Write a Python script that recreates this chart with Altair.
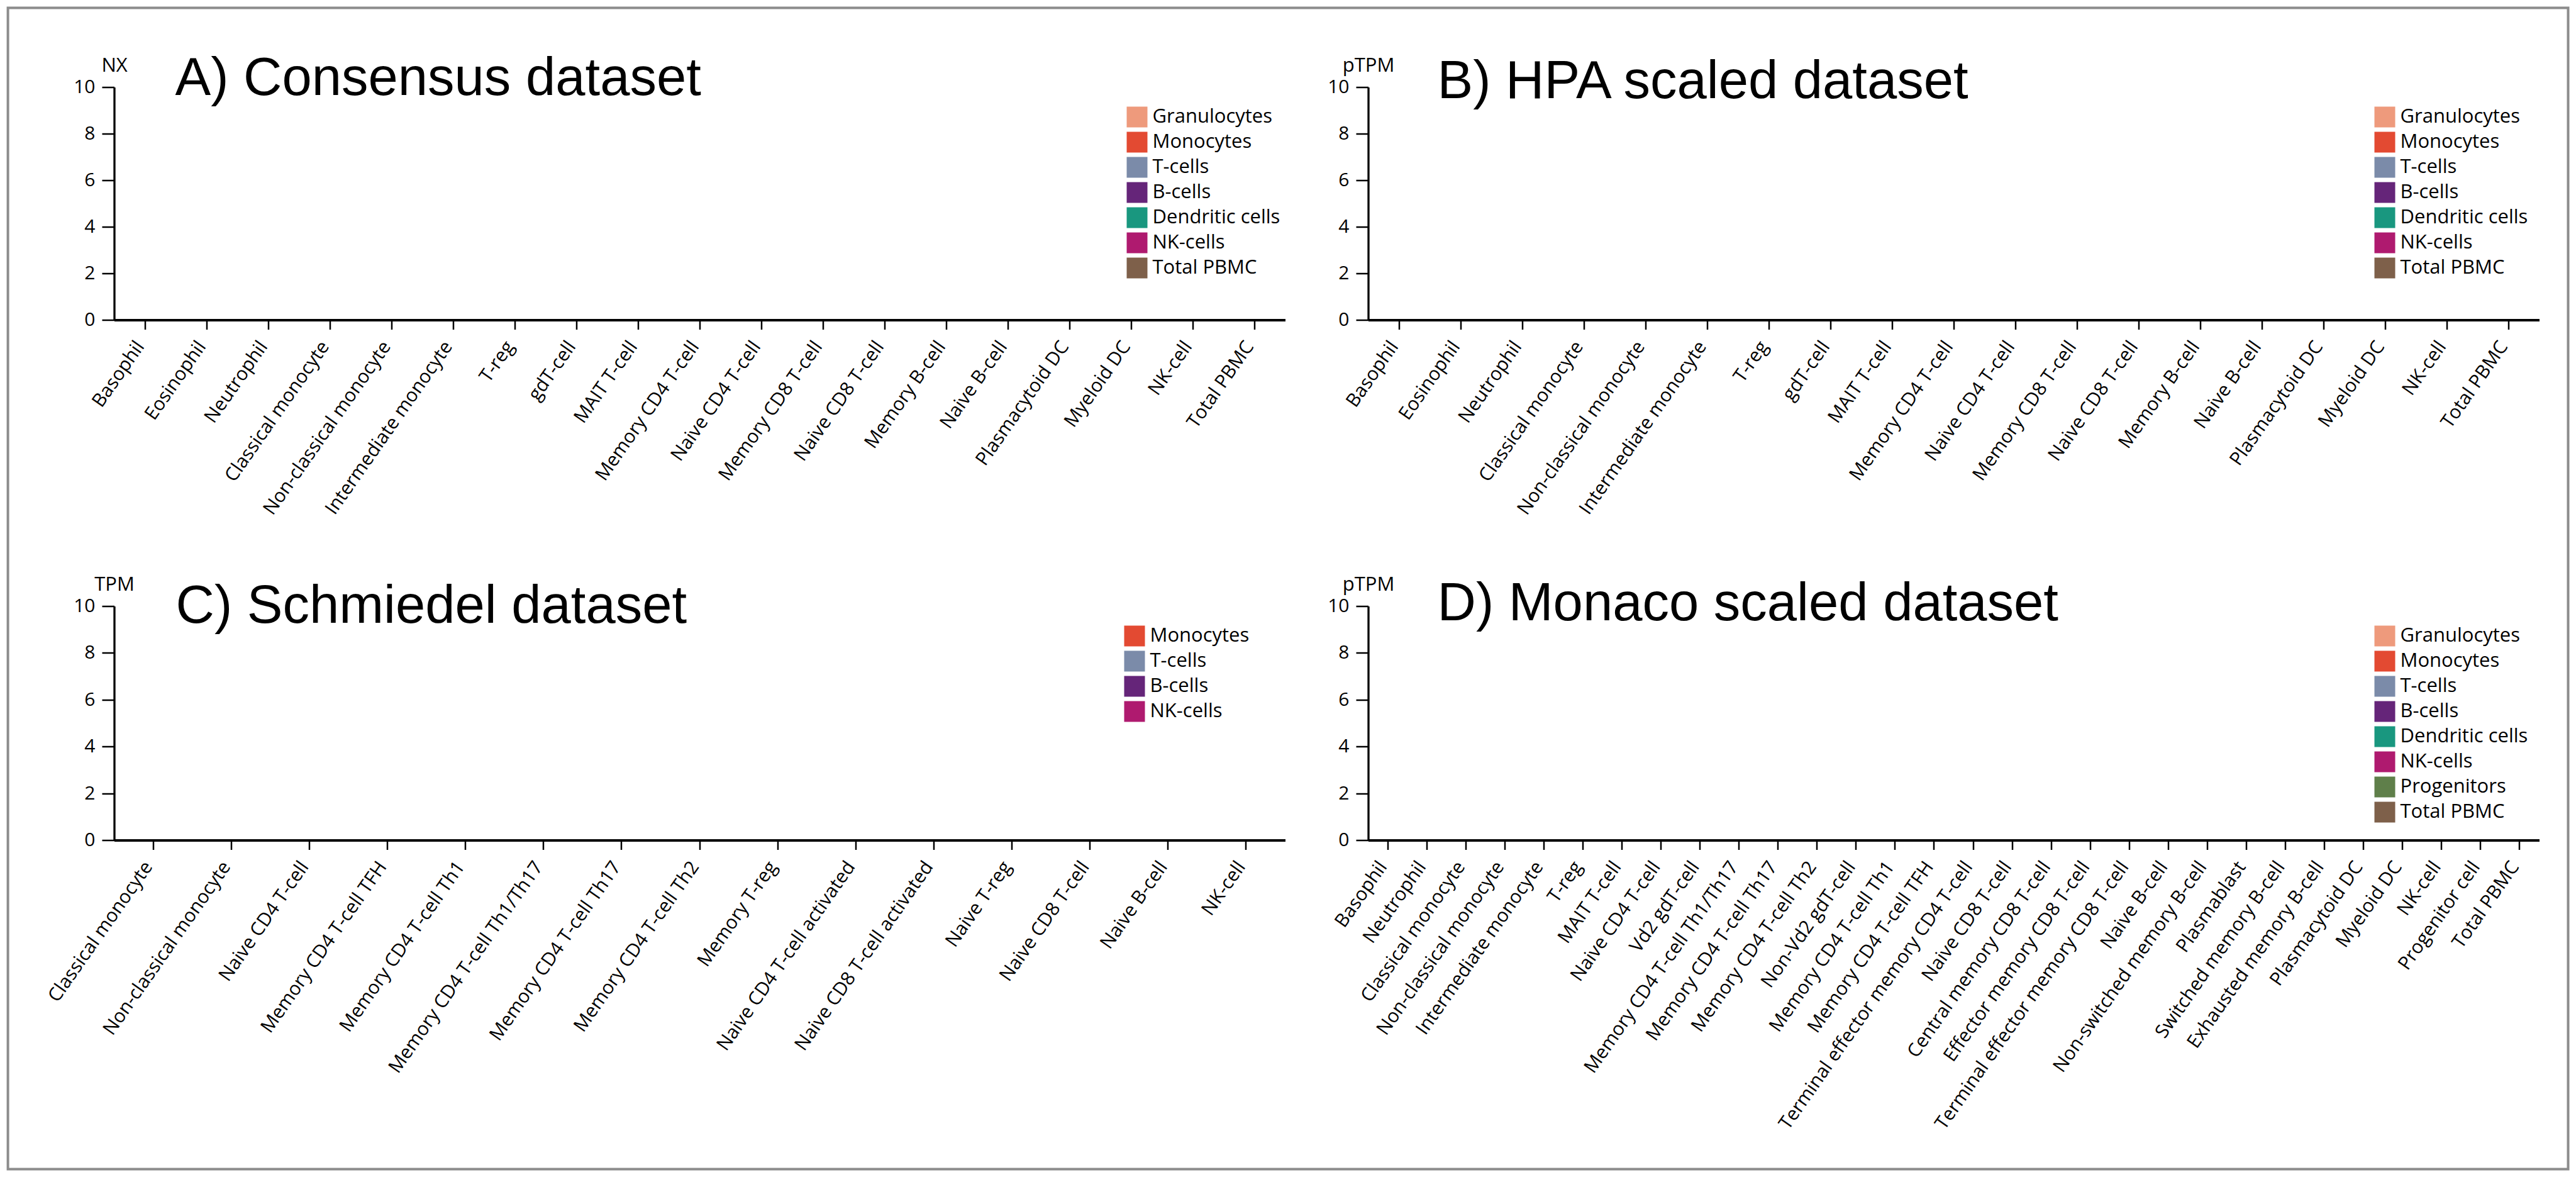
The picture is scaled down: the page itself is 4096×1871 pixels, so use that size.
import altair as alt
import pandas as pd

# ---------------- data ----------------
cells_a = ["Basophil", "Eosinophil", "Neutrophil", "Classical monocyte", "Non-classical monocyte",
           "Intermediate monocyte", "T-reg", "gdT-cell", "MAIT T-cell", "Memory CD4 T-cell",
           "Naive CD4 T-cell", "Memory CD8 T-cell", "Naive CD8 T-cell", "Memory B-cell",
           "Naive B-cell", "Plasmacytoid DC", "Myeloid DC", "NK-cell", "Total PBMC"]
groups_a = ["Granulocytes", "Granulocytes", "Granulocytes", "Monocytes", "Monocytes",
            "Monocytes", "T-cells", "T-cells", "T-cells", "T-cells",
            "T-cells", "T-cells", "T-cells", "B-cells",
            "B-cells", "Dendritic cells", "Dendritic cells", "NK-cells", "Total PBMC"]
values_a = [0, 0, 0, 0, 0, 0, 0, 0, 0, 0, 0, 0, 0, 0, 0, 0, 0, 0, 0]

cells_b = list(cells_a)
groups_b = list(groups_a)
values_b = [0, 0, 0, 0, 0, 0, 0, 0, 0, 0, 0, 0, 0, 0, 0, 0, 0, 0, 0]

cells_c = ["Classical monocyte", "Non-classical monocyte", "Naive CD4 T-cell", "Memory CD4 T-cell TFH",
           "Memory CD4 T-cell Th1", "Memory CD4 T-cell Th1/Th17", "Memory CD4 T-cell Th17",
           "Memory CD4 T-cell Th2", "Memory T-reg", "Naive CD4 T-cell activated",
           "Naive CD8 T-cell activated", "Naive T-reg", "Naive CD8 T-cell", "Naive B-cell", "NK-cell"]
groups_c = ["Monocytes", "Monocytes", "T-cells", "T-cells",
            "T-cells", "T-cells", "T-cells",
            "T-cells", "T-cells", "T-cells",
            "T-cells", "T-cells", "T-cells", "B-cells", "NK-cells"]
values_c = [0, 0, 0, 0, 0, 0, 0, 0, 0, 0, 0, 0, 0, 0, 0]

cells_d = ["Basophil", "Neutrophil", "Classical monocyte", "Non-classical monocyte", "Intermediate monocyte",
           "T-reg", "MAIT T-cell", "Naive CD4 T-cell", "Vd2 gdT-cell", "Memory CD4 T-cell Th1/Th17",
           "Memory CD4 T-cell Th17", "Memory CD4 T-cell Th2", "Non-Vd2 gdT-cell", "Memory CD4 T-cell Th1",
           "Memory CD4 T-cell TFH", "Terminal effector memory CD4 T-cell", "Naive CD8 T-cell",
           "Central memory CD8 T-cell", "Effector memory CD8 T-cell", "Terminal effector memory CD8 T-cell",
           "Naive B-cell", "Non-switched memory B-cell", "Plasmablast", "Switched memory B-cell",
           "Exhausted memory B-cell", "Plasmacytoid DC", "Myeloid DC", "NK-cell", "Progenitor cell",
           "Total PBMC"]
groups_d = ["Granulocytes", "Granulocytes", "Monocytes", "Monocytes", "Monocytes",
            "T-cells", "T-cells", "T-cells", "T-cells", "T-cells",
            "T-cells", "T-cells", "T-cells", "T-cells",
            "T-cells", "T-cells", "T-cells",
            "T-cells", "T-cells", "T-cells",
            "B-cells", "B-cells", "B-cells", "B-cells",
            "B-cells", "Dendritic cells", "Dendritic cells", "NK-cells", "Progenitors",
            "Total PBMC"]
values_d = [0, 0, 0, 0, 0, 0, 0, 0, 0, 0, 0, 0, 0, 0, 0, 0, 0, 0, 0, 0, 0, 0, 0, 0, 0, 0, 0, 0, 0, 0]

legend_a = ["Granulocytes", "Monocytes", "T-cells", "B-cells", "Dendritic cells", "NK-cells", "Total PBMC"]
legend_b = list(legend_a)
legend_c = ["Monocytes", "T-cells", "B-cells", "NK-cells"]
legend_d = ["Granulocytes", "Monocytes", "T-cells", "B-cells", "Dendritic cells", "NK-cells",
            "Progenitors", "Total PBMC"]

group_colors = {
    "Granulocytes": "#EE9A7C",
    "Monocytes": "#E34A32",
    "T-cells": "#7B8BA9",
    "B-cells": "#652579",
    "Dendritic cells": "#19977F",
    "NK-cells": "#AF1A6F",
    "Progenitors": "#5F7F4A",
    "Total PBMC": "#7E604A",
}

titles = ["A) Consensus dataset", "B) HPA scaled dataset", "C) Schmiedel dataset", "D) Monaco scaled dataset"]
units = ["NX", "pTPM", "TPM", "pTPM"]
y_ticks = [0, 2, 4, 6, 8, 10]

# ---------------- layout (output pixels) ----------------
PW = 1862
ROW_H = [370, 372]
LABEL_FONT = "Open Sans"
TITLE_FONT = "Liberation Sans"


def panel(cells, groups, values, unit, title, legend_dom, lx, ly, tx, ty, h, extra=None):
    df = pd.DataFrame({"cell": cells, "group": groups, "value": values})
    x = alt.X("cell:N", sort=cells,
              scale=alt.Scale(paddingInner=0, paddingOuter=0),
              axis=alt.Axis(title=None, labelAngle=-55, labelAlign="right", labelBaseline="alphabetic",
                            labelPadding=27, labelFont=LABEL_FONT, labelFontSize=30, labelColor="black",
                            labelLimit=1000, labelOverlap=False, tickSize=15, tickWidth=2.5,
                            tickColor="black", domainColor="black", domainWidth=4))
    y = alt.Y("value:Q", scale=alt.Scale(domain=[0, 10], nice=False),
              axis=alt.Axis(values=y_ticks, title=unit, titleAngle=0, titleX=0, titleY=-25,
                            titleAlign="center", titleBaseline="alphabetic", titleFont=LABEL_FONT,
                            titleFontSize=31, titleFontWeight="normal", titleColor="black",
                            labelFont=LABEL_FONT, labelFontSize=30, labelPadding=11, labelColor="black",
                            tickSize=19.5, tickWidth=2.5, tickColor="black", domainColor="black",
                            domainWidth=3.3, grid=False))
    color = alt.Color("group:N",
                      scale=alt.Scale(domain=legend_dom, range=[group_colors[g] for g in legend_dom]),
                      legend=alt.Legend(title=None, orient="none", legendX=lx, legendY=ly,
                                        symbolType="square", symbolSize=1089, symbolStrokeWidth=0,
                                        symbolOpacity=1, labelFont=LABEL_FONT, labelFontSize=31,
                                        labelColor="black", labelOffset=8, rowPadding=7, padding=0,
                                        labelLimit=1000))
    bars = alt.Chart(df).mark_bar().encode(x=x, y=y, color=color)
    ttl = alt.Chart(pd.DataFrame({"t": [title]})).mark_text(
        align="left", baseline="alphabetic", font=TITLE_FONT, fontSize=85, color="black"
    ).encode(x=alt.value(tx), y=alt.value(ty), text="t:N")
    layers = [bars, ttl]
    if extra is not None:
        layers.append(extra)
    return alt.layer(*layers).properties(width=PW, height=h)


border = alt.Chart(pd.DataFrame({"b": [1]})).mark_rect(
    fillOpacity=0, stroke="#8c8c8c", strokeWidth=4
).encode(x=alt.value(-168.9), x2=alt.value(3902), y=alt.value(-125.9), y2=alt.value(1720))

pa = panel(cells_a, groups_a, values_a, units[0], titles[0], legend_a, 1610, 31, 97, 12, ROW_H[0], border)
pb = panel(cells_b, groups_b, values_b, units[1], titles[1], legend_b, 1600, 31, 110, 17, ROW_H[0])
pc = panel(cells_c, groups_c, values_c, units[2], titles[2], legend_c, 1606, 31, 98, 26, ROW_H[1])
pd_ = panel(cells_d, groups_d, values_d, units[3], titles[3], legend_d, 1600, 31, 110, 22, ROW_H[1])

chart = alt.concat(pa, pb, pc, pd_, columns=2, spacing={"row": 455, "column": 132}, bounds="flush")
chart = chart.resolve_scale(x="independent", y="independent", color="independent") \
    .resolve_legend(color="independent") \
    .properties(padding={"left": 2.5, "top": 2.5, "right": 0, "bottom": 0}, background="white") \
    .configure_view(strokeWidth=0)

chart.save("out.html", embed_options={"renderer": "svg", "actions": False})
